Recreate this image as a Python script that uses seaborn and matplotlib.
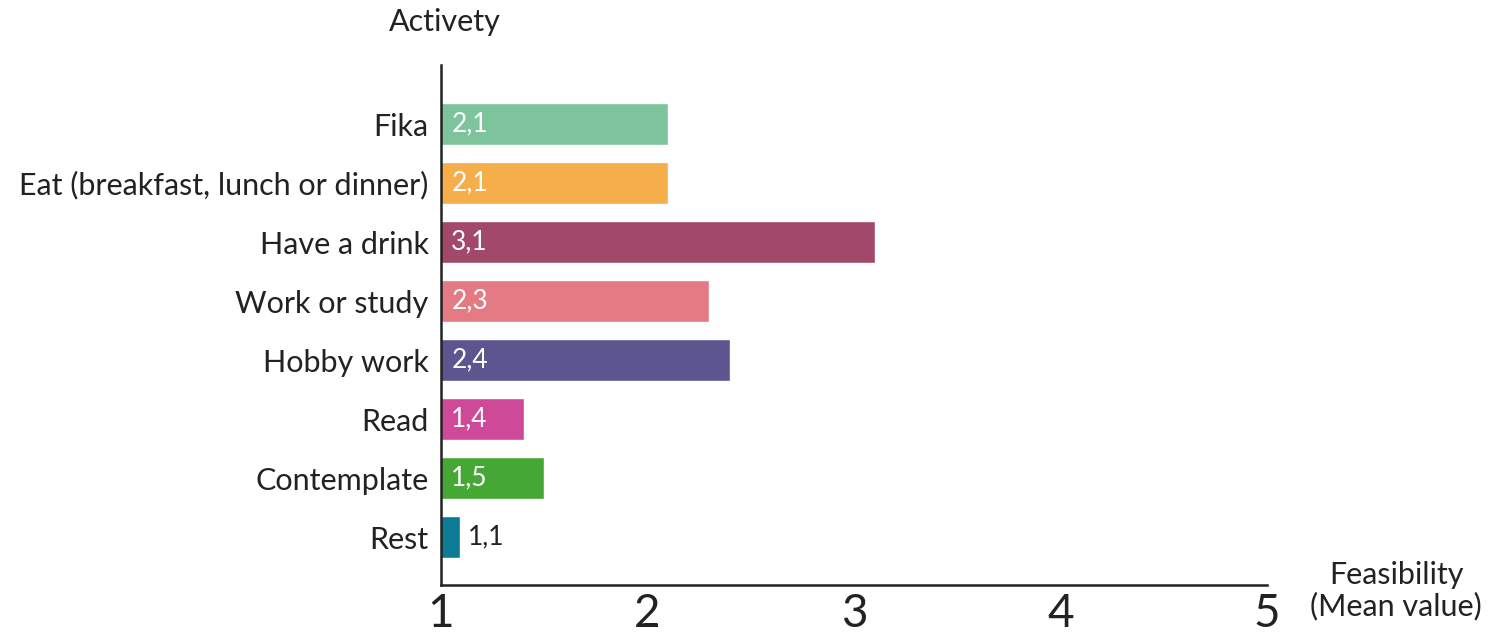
import matplotlib
matplotlib.use("Agg")
import matplotlib.pyplot as plt
import seaborn as sns
import pandas as pd

categories = ["Fika", "Eat (breakfast, lunch or dinner)", "Have a drink", "Work or study",
              "Hobby work", "Read", "Contemplate", "Rest"]
values = [2.1, 2.1, 3.1, 2.3, 2.4, 1.4, 1.5, 1.09]
value_labels = ["2,1", "2,1", "3,1", "2,3", "2,4", "1,4", "1,5", "1,1"]
colors = ["#7DC49D", "#F6AE4A", "#A24868", "#E47A83", "#5C558F", "#CE4A98", "#45A834", "#0C7C96"]
xticks = [1, 2, 3, 4, 5]

sns.set_style("white")
plt.rcParams["font.family"] = ["Lato", "DejaVu Sans"]

df = pd.DataFrame({"Activity": categories, "Value": values})

fig = plt.figure(figsize=(14.95, 6.34), dpi=100)
ax = fig.add_axes([0.295, 0.0773, 0.5525, 0.8202])
sns.barplot(data=df, y="Activity", x="Value", hue="Activity", palette=colors,
            orient="h", width=0.71, legend=False, ax=ax, saturation=1)

ax.set_xlim(1, 5)
ax.set_ylim(7.81, -1.0)
ax.set_xticks(xticks)
ax.set_xticklabels([str(t) for t in xticks], fontsize=33)
ax.tick_params(axis="x", direction="in", length=8, width=1.8, pad=6, colors="#222222",
               labelcolor="#222222")
ax.tick_params(axis="y", length=0, pad=9, labelsize=22, labelcolor="#222222")
ax.set_xlabel("")
ax.set_ylabel("")
for s in ["top", "right"]:
    ax.spines[s].set_visible(False)
for s in ["left", "bottom"]:
    ax.spines[s].set_linewidth(1.8)
    ax.spines[s].set_color("#222222")

for i, (v, lab) in enumerate(zip(values, value_labels)):
    if v - 1 > 0.3:
        ax.text(1.05, i, lab, color="white", va="center", ha="left", fontsize=19)
    else:
        ax.text(v + 0.04, i, lab, color="#222222", va="center", ha="left", fontsize=19)

fig.text(445 / 1495, 1 - 22 / 634, "Activety", ha="center", va="center", fontsize=22, color="#222222")
fig.text(1396 / 1495, 1 - 575 / 634, "Feasibility", ha="center", va="center", fontsize=22, color="#222222")
fig.text(1396 / 1495, 1 - 606 / 634, "(Mean value)", ha="center", va="center", fontsize=22, color="#222222")

fig.savefig("out.png", dpi=100)
